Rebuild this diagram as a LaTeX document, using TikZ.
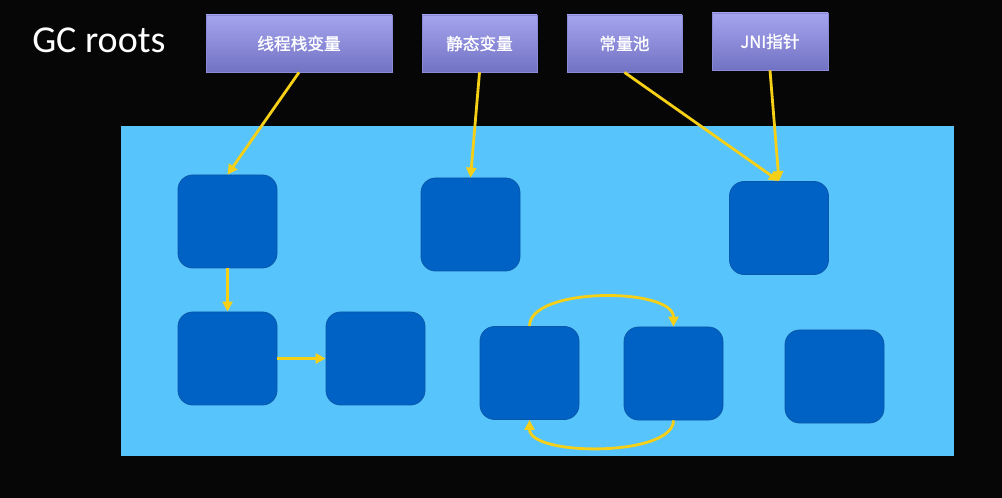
\documentclass[tikz,border=0pt]{standalone}
\usepackage{fontspec}
\setmainfont{Carlito}
\newfontfamily\cjk[FakeBold=1.2]{Noto Sans CJK SC}
\usetikzlibrary{arrows.meta,shadings}
\definecolor{bgcol}{HTML}{060606}
\definecolor{heapcol}{HTML}{57C4FC}
\definecolor{objcol}{HTML}{0062C4}
\definecolor{objline}{HTML}{0A58AA}
\definecolor{roottop}{HTML}{A4A4EE}
\definecolor{rootbot}{HTML}{7272C4}
\definecolor{rootline}{HTML}{8A8AD6}
\definecolor{arrcol}{HTML}{F6D017}
\tikzset{
  heapbox/.style={rectangle, fill=heapcol, inner sep=0pt, minimum width=624.75pt, minimum height=247.5pt},
  objbox/.style={rectangle, rounded corners=11pt, fill=objcol, draw=objline, line width=0.6pt, inner sep=0pt, minimum width=74.25pt, minimum height=69.75pt},
  rootbox/.style={rectangle, top color=roottop, bottom color=rootbot, draw=rootline, line width=0.6pt, inner sep=0pt, minimum height=42.75pt, text=white, font=\cjk\fontsize{12.5pt}{14pt}\selectfont},
  arr/.style={draw=arrcol, line width=2.1pt, -{Triangle[length=7.5pt,width=7.5pt]}},
  title/.style={text=white, inner sep=0pt, font=\fontsize{28.5pt}{32pt}\selectfont}
}
\begin{document}
\begin{tikzpicture}[x=0.75pt,y=-0.75pt]
\fill[bgcol] (0,0) rectangle (1002,498);
\useasboundingbox (0,0) rectangle (1002,498);

\node[title, anchor=base west] (gc) at (32,53) {GC roots};

\node[rootbox, minimum width=139.5pt] (r1) at (299,43.5) {线程栈变量};
\node[rootbox, minimum width=86.25pt] (r2) at (479.5,43.5) {静态变量};
\node[rootbox, minimum width=86.25pt] (r3) at (624.5,43.5) {常量池};
\node[rootbox, minimum width=87pt] (r4) at (770,41.5) {JNI指针};

\node[heapbox] (heap) at (537.5,291) {};

\node[objbox] (A) at (227.5,221.5) {};
\node[objbox] (B) at (470.5,224.5) {};
\node[objbox] (C) at (779,228) {};
\node[objbox] (D) at (227.5,358.5) {};
\node[objbox] (E) at (375.5,358.5) {};
\node[objbox] (F) at (529.5,373) {};
\node[objbox] (G) at (673.5,373.5) {};
\node[objbox] (H) at (834.5,376.5) {};

\draw[arr] (r1.south) -- (A.north);
\draw[arr] (r2.south) -- (B.north);
\draw[arr] (r3.south) -- (C.north);
\draw[arr] (r4.south) -- (C.north);
\draw[arr] (A.south) -- (D.north);
\draw[arr] (D.east) -- (E.west);
\draw[arr] (F.north) to[out=90,in=90,looseness=0.7] (G.north);
\draw[arr] (G.south) to[out=-90,in=-90,looseness=0.65] (F.south);
\end{tikzpicture}
\end{document}
